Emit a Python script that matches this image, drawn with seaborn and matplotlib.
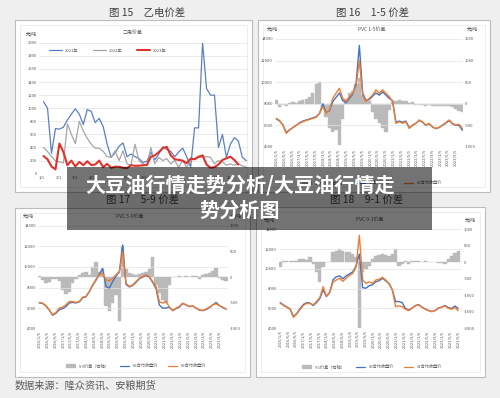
import numpy as np
import pandas as pd
import matplotlib
matplotlib.use("Agg")
import matplotlib.pyplot as plt
from matplotlib.patches import Rectangle, Patch
from matplotlib.lines import Line2D
import seaborn as sns

# ---- 图15 乙电价差（周度，元/吨） ----
yidian_2021 = [1100, 1000, 310, 690, 680, 710, 820, 910, 990, 910, 750, 980, 950, 780, 845, 720,
               450, 250, 320, 420, 470, 260, 300, 260, 230, 170, 190, 330, 210, 300, 410, 370,
               340, 260, 330, 390, 260, 100, 700, 700, 2000, 1300, 1200, 1200, 400, 600, 250,
               450, 550, 500, 250, 200]
yidian_2022 = [400, 340, 260, 200, 180, 165, 760, 600, 460, 800, 650, 540, 450, 390, 390, 340,
               260, 250, 350, 200, 350, 150, 130, 450, 200, 150, 120, 400, 150, 250, 200, 230,
               150, 200, 100, 200, 100, 200, 230, 250, 250, 260, 250, 150, 200, 180, 130, 150,
               130, 150, 120, 100]
yidian_2023 = [270, 220, 110, 66, 460, 330, 130, 200, 110, 180, 130, 190, 133, 140, 200, 100,
               150, 90, 107, 107, 90, 85, 130, 120, 122, 128, 135, 260, 280, 330, 390, 410,
               280, 220, 210, 200, 160, 230, 220, 260, 280, 140, 90, 100, 140, 210, 235, 260,
               210, 140]
yidian_months = ["1/1", "2/1", "3/1", "4/1", "5/1", "6/1", "7/1", "8/1", "9/1", "10/1", "11/1", "12/1"]
yidian_years = ["2021年", "2022年", "2023年"]

# ---- PVC 价差（右轴）与合约收盘价（左轴） ----
pvc_ticks = ["2016/1/5", "2016/5/5", "2016/9/5", "2017/1/5", "2017/5/5", "2017/9/5",
             "2018/1/5", "2018/5/5", "2018/9/5", "2019/1/5", "2019/5/5", "2019/9/5",
             "2020/1/5", "2020/5/5", "2020/9/5", "2021/1/5", "2021/5/5", "2021/9/5",
             "2022/1/5", "2022/5/5", "2022/9/5", "2023/1/5", "2023/5/5", "2023/9/5"]

spread_1_5 = [80, -80, -30, -40, 20, 40, 30, 60, 90, 120, 150, 250, 450, 500, -80, -300, -550,
              -650, -600, -950, -350, 120, 250, 300, 450, 600, 200, 120, 60, -200, -350, -450,
              -550, -650, -150, 40, 60, 80, 70, 60, 30, 50, -20, -30, -20, -40, -30, -40, -50,
              -40, -50, -60, -50, -70, -120, -160, -200]
close_01 = [6600, 6400, 6050, 5350, 5600, 5800, 6000, 6250, 6400, 6500, 6600, 6700, 6800, 7100,
            8000, 7200, 7350, 8200, 8600, 9000, 8300, 8100, 8500, 8900, 9900, 13400, 9000, 8300,
            8400, 8700, 9000, 8800, 9100, 8800, 8500, 8300, 6300, 6400, 6300, 6400, 5800, 6000,
            6200, 6450, 6300, 6000, 6150, 5850, 5700, 5800, 6000, 6200, 6450, 6150, 6000, 6000, 5550]
close_05_a = [6650, 6450, 6000, 5250, 5570, 5800, 6030, 6200, 6340, 6450, 6560, 6650, 6740, 7120,
              7740, 7120, 7430, 8510, 8980, 9440, 8510, 8200, 8670, 8980, 9600, 12000, 8800, 8200,
              8510, 8820, 9290, 8980, 9290, 8980, 8670, 8200, 6190, 6340, 6190, 6340, 5720, 6030,
              6190, 6500, 6340, 6030, 6190, 5880, 5720, 5810, 6030, 6250, 6500, 6190, 6030, 6100, 5720]

spread_5_9 = [20, -60, -120, -100, -40, -30, -80, -250, -320, -280, -120, -30, 40, 90, 100, 40,
              200, 300, 100, 150, -550, -650, -500, -350, -850, 600, 150, 80, 60, 50, 60, 80,
              100, 150, 400, -150, -300, -450, -500, -150, 10, 10, 15, 10, 20, 10, 15, 20, -30,
              40, 60, 80, 120, 180, -20, -50, -80]
close_05_b = [6500, 6450, 6200, 5800, 5300, 5500, 5850, 5950, 6150, 6500, 6550, 6500, 6600, 7000,
              7100, 7600, 8200, 8700, 9300, 9850, 8100, 7950, 8580, 9100, 9500, 12130, 8300, 8050,
              8200, 8500, 8850, 9000, 9200, 9000, 8500, 7900, 6300, 6000, 6000, 6100, 5750, 5950,
              6100, 6450, 6300, 6150, 6200, 6000, 5800, 5750, 5850, 6050, 6300, 6550, 6250, 6050, 5900]
close_09_a = [6550, 6480, 6230, 5840, 5350, 5580, 6000, 6100, 6320, 6640, 6640, 6550, 6640, 7060,
              7130, 7610, 8260, 8810, 9230, 9390, 8740, 8640, 8900, 9230, 9550, 11480, 8420, 8100,
              8260, 8580, 8900, 9060, 9230, 9060, 8580, 8100, 6640, 6480, 6640, 6100, 5770, 6000,
              6160, 6480, 6320, 6160, 6230, 6000, 5840, 5770, 5900, 6100, 6320, 6420, 6230, 6100, 5900]

spread_9_1 = [-150, 50, 50, 40, 30, 50, 100, 110, 60, 150, -60, -300, -600, -150, 10, 20, 300,
              350, 400, 350, 300, 320, 250, 150, -2000, -300, -200, -100, 100, 200, 220, 250, 220,
              200, 250, 400, -100, -60, 30, -40, 40, 30, 30, 20, 25, 20, 15, 10, -20, -30, -50,
              100, 200, 280, 350]
close_09_b = [6600, 6350, 6150, 5950, 5200, 5500, 6000, 6400, 6600, 6550, 6300, 6600, 7000, 7900,
              7200, 7600, 8900, 9200, 9300, 9000, 9300, 9500, 9700, 10300, 11500, 8100, 8050, 8300,
              8400, 8700, 8800, 9050, 8800, 8500, 7900, 6700, 6700, 6600, 6000, 5850, 6050, 6300,
              6400, 6150, 5950, 5800, 5700, 5800, 6050, 6150, 6300, 6100, 6000, 6250, 6000]
close_01_b = [6530, 6300, 6120, 5900, 5110, 5450, 5900, 6300, 6530, 6500, 6360, 6700, 7100, 8200,
              7250, 7650, 8650, 8880, 9050, 8750, 9050, 9350, 9550, 10200, 13400, 8900, 8540, 8700,
              8540, 8880, 8950, 9150, 8880, 8540, 7900, 6200, 6260, 6190, 5920, 5780, 6020, 6260,
              6360, 6120, 5920, 5780, 5680, 5780, 6020, 6120, 6260, 6020, 5920, 6120, 5780]

W, H = 500, 398
BLUE = "#4472c4"
ORANGE = "#ed7d31"
BAR_GRAY = "#bababa"
TXT = "#595959"


def frac(x0, y0, x1, y1):
    # 像素框 -> figure 坐标
    return [x0 / W, 1 - y1 / H, (x1 - x0) / W, (y1 - y0) / H]


def ftext(x, y, s, **kw):
    fig.text(x / W, 1 - y / H, s, **kw)


def box(x0, y0, x1, y1):
    fig.patches.append(Rectangle((x0 / W, 1 - y1 / H), (x1 - x0) / W, (y1 - y0) / H,
                                 transform=fig.transFigure, facecolor="white",
                                 edgecolor="#bcbcbc", lw=0.8, zorder=-2))
    fig.patches.append(Rectangle(((x0 + 5) / W, 1 - (y1 - 5) / H), (x1 - x0 - 10) / W,
                                 (y1 - y0 - 10) / H, transform=fig.transFigure,
                                 facecolor="white", edgecolor="#e6e6e6", lw=0.5, zorder=-1))


def clean(ax):
    for s in ax.spines.values():
        s.set_visible(False)
    ax.tick_params(length=0, pad=1.5, labelsize=3, colors=TXT)
    ax.set_xlabel("")
    ax.set_ylabel("")


def draw_pvc(rect, dates, spread, near, far, rlim, pad_end):
    ax = fig.add_axes(rect)
    ax2 = ax.twinx()
    step = (dates[1] - dates[0]).days
    ax2.bar(dates, spread, width=step, color=BAR_GRAY, edgecolor=BAR_GRAY, lw=0.3)
    sns.lineplot(x=dates, y=near, ax=ax, color=BLUE, lw=1.0)
    sns.lineplot(x=dates, y=far, ax=ax, color=ORANGE, lw=1.0)
    ax.set_zorder(ax2.get_zorder() + 1)
    ax.patch.set_visible(False)
    ax2.patch.set_visible(False)
    ax.set_ylim(4000, 14000)
    ax.set_yticks(range(4000, 14001, 2000))
    ax2.set_ylim(*rlim)
    ax2.set_yticks(range(rlim[0], rlim[1] + 1, 500))
    ax.set_xlim(dates[0] - pd.Timedelta(days=20), dates[-1] + pd.Timedelta(days=pad_end))
    tick_dates = pd.to_datetime(pvc_ticks, format="%Y/%m/%d")
    ax.set_xticks(tick_dates)
    ax.set_xticklabels(pvc_ticks, rotation=90)
    ax.grid(axis="y", color="#e3e3e3", lw=0.5)
    ax.grid(axis="x", visible=False)
    clean(ax)
    clean(ax2)
    handles = [Patch(color=BAR_GRAY), Line2D([], [], color=BLUE, lw=0.9),
               Line2D([], [], color=ORANGE, lw=0.9)]
    return ax, handles


sns.set_theme(style="white")
plt.rcParams["font.family"] = ["Noto Sans CJK SC", "DejaVu Sans"]
plt.rcParams["axes.unicode_minus"] = False

fig = plt.figure(figsize=(W / 100, H / 100), dpi=100, facecolor="#efefef")

# 外框
box(15, 20, 252, 192)
box(258, 20, 490, 192)
box(15, 208, 250, 377)
box(256, 207, 485, 377)

# 图标题
ftext(147, 13, "图 15　乙电价差", ha="center", va="center", fontsize=7.5, color="#404040")
ftext(372, 13, "图 16　1-5 价差", ha="center", va="center", fontsize=7.5, color="#404040")
ftext(143, 200, "图 17　5-9 价差", ha="center", va="center", fontsize=7.5, color="#404040")
ftext(367, 200, "图 18　9-1 价差", ha="center", va="center", fontsize=7.5, color="#404040")

# ---- 图15 ----
ax15 = fig.add_axes(frac(39, 42.7, 248, 173.7))
week_days = pd.date_range("2021-01-05", periods=len(yidian_2021), freq="7D").dayofyear - 1
for vals, col, lw, name in [(yidian_2021, "#5a7fc6", 0.9, yidian_years[0]),
                            (yidian_2022, "#a6a6a6", 0.9, yidian_years[1]),
                            (yidian_2023, "#e0312b", 1.5, yidian_years[2])]:
    sns.lineplot(x=week_days[:len(vals)], y=vals, ax=ax15, color=col, lw=lw, label=name)
ax15.set_xlim(-4, 364)
ax15.set_ylim(0, 2000)
ax15.set_yticks(range(0, 2001, 200))
month_days = pd.date_range("2021-01-01", periods=12, freq="MS").dayofyear - 1
ax15.set_xticks(month_days)
ax15.set_xticklabels(yidian_months)
ax15.patch.set_visible(False)
ax15.grid(axis="y", color="#e3e3e3", lw=0.5)
clean(ax15)
ax15.legend(loc="center left", bbox_to_anchor=(0.03, 0.94), ncol=3, frameon=False,
            fontsize=3, handlelength=3.2, columnspacing=3.5, handletextpad=0.6,
            labelcolor=TXT)
ftext(133, 32.5, "乙电价差", ha="center", va="center", fontsize=3.6, color=TXT)
ftext(31, 34.5, "元/吨", ha="center", va="center", fontsize=3.3, color="#333333")

# ---- 图16 ----
d16 = pd.date_range("2016-01-05", "2023-12-20", periods=len(spread_1_5))
ax16, h16 = draw_pvc(frac(275, 39, 463, 147), d16, spread_1_5, close_01, close_05_a,
                     (-1000, 1500), 10)
fig.legend(h16, ["1-5价差（右轴）", "01合约收盘价", "05合约收盘价"], loc="center",
           bbox_to_anchor=(372 / W, 1 - 183 / H), ncol=3, frameon=False, fontsize=3,
           handlelength=2.2, columnspacing=2.5, labelcolor=TXT)
ftext(372, 29, "PVC 1-5价差", ha="center", va="center", fontsize=3.6, color=TXT)
ftext(272, 29, "元/吨", ha="center", va="center", fontsize=3.3, color="#333333")
ftext(472, 29, "元/吨", ha="center", va="center", fontsize=3.3, color="#333333")

# ---- 图17 ----
d17 = pd.date_range("2016-01-05", "2023-12-20", periods=len(spread_5_9))
ax17, h17 = draw_pvc(frac(38, 225.7, 228, 328.7), d17, spread_5_9, close_05_b, close_09_a,
                     (-1000, 1000), 30)
fig.legend(h17, ["5-9价差（右轴）", "05合约收盘价", "09合约收盘价"], loc="center",
           bbox_to_anchor=(136 / W, 1 - 366 / H), ncol=3, frameon=False, fontsize=3,
           handlelength=2.2, columnspacing=2.5, labelcolor=TXT)
ftext(130, 216, "PVC 5-9价差", ha="center", va="center", fontsize=3.6, color=TXT)
ftext(28, 216, "元/吨", ha="center", va="center", fontsize=3.3, color="#333333")
ftext(236, 216, "元/吨", ha="center", va="center", fontsize=3.3, color="#333333")

# ---- 图18 ----
d18 = pd.date_range("2016-01-05", "2023-09-05", periods=len(spread_9_1))
ax18, h18 = draw_pvc(frac(279, 229.3, 462, 328.3), d18, spread_9_1, close_09_b, close_01_b,
                     (-2000, 1000), 60)
fig.legend(h18, ["9-1价差（右轴）", "09合约收盘价", "01合约收盘价"], loc="center",
           bbox_to_anchor=(372 / W, 1 - 367 / H), ncol=3, frameon=False, fontsize=3,
           handlelength=2.2, columnspacing=2.5, labelcolor=TXT)
ftext(370, 219, "PVC 9-1价差", ha="center", va="center", fontsize=3.6, color=TXT)
ftext(269, 220, "元/吨", ha="center", va="center", fontsize=3.3, color="#333333")
ftext(470, 220, "元/吨", ha="center", va="center", fontsize=3.3, color="#333333")

# 数据来源
ftext(15, 385, "数据来源：隆众资讯、安粮期货", ha="left", va="center", fontsize=7.3, color=TXT)

# 标题遮罩
fig.patches.append(Rectangle((67 / W, 1 - 230 / H), (432 - 67) / W, (230 - 167) / H,
                             transform=fig.transFigure, facecolor="black", alpha=0.55,
                             lw=0, zorder=10))
ftext(240, 185, "大豆油行情走势分析/大豆油行情走", ha="center", va="center", fontsize=14.5,
      fontweight="bold", color="white", zorder=11)
ftext(240, 210, "势分析图", ha="center", va="center", fontsize=14.5,
      fontweight="bold", color="white", zorder=11)

fig.savefig("out.png", dpi=100, facecolor=fig.get_facecolor())
